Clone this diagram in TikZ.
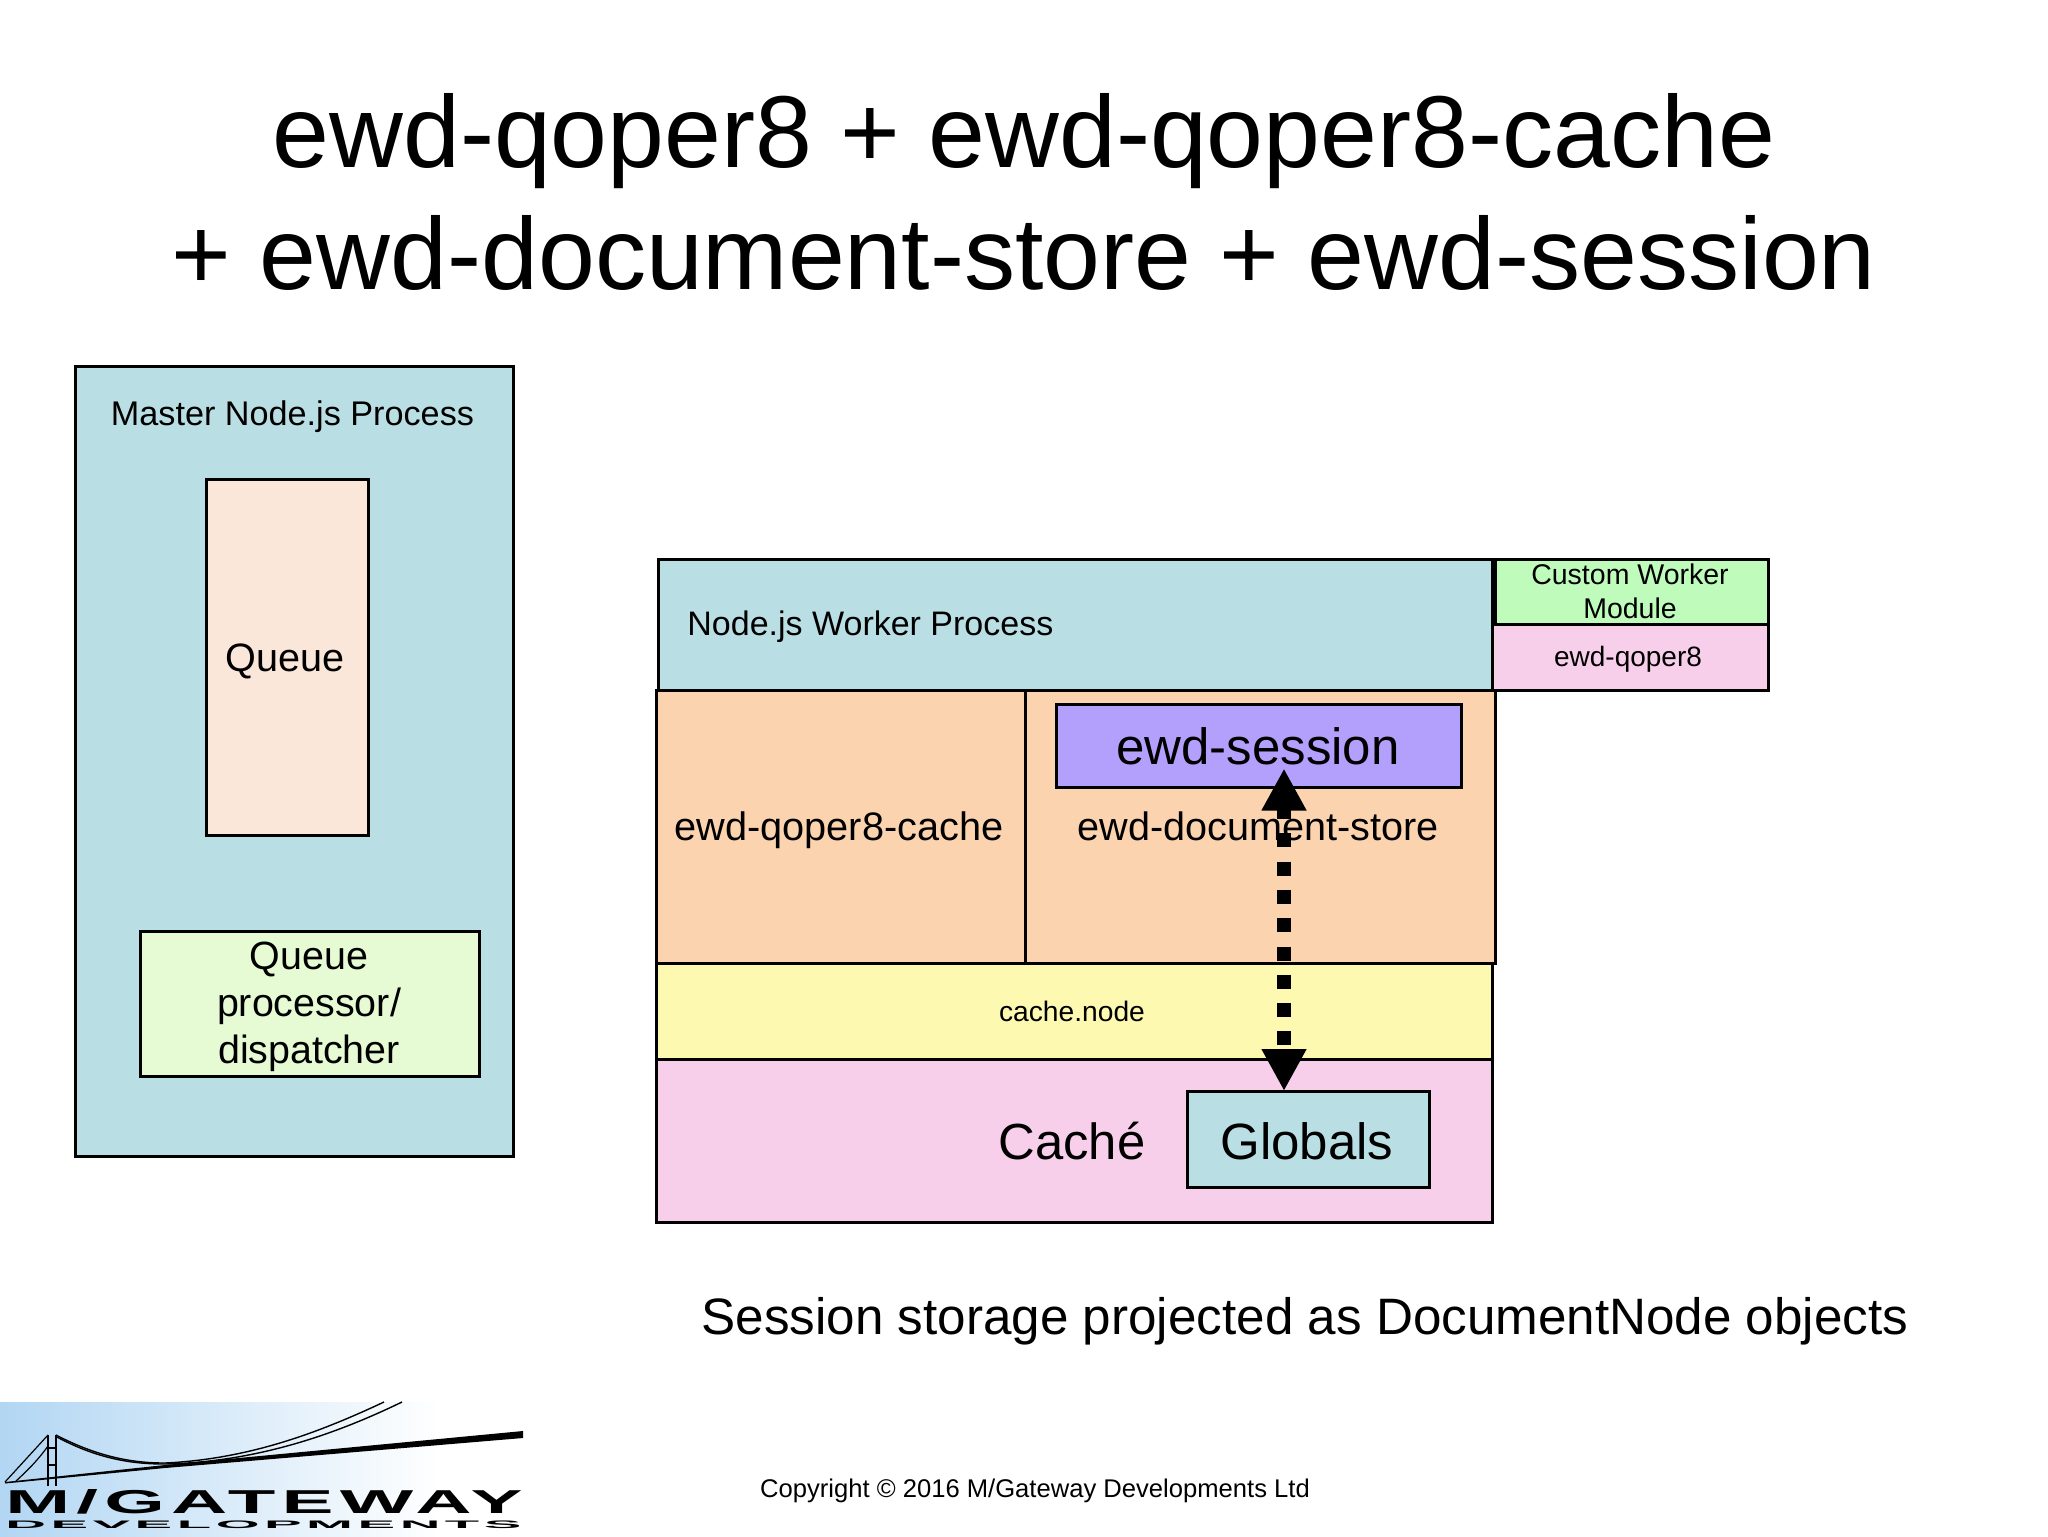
\documentclass[tikz,border=0pt]{standalone}
\usepackage{fontspec}
\setmainfont{Liberation Sans}
\usetikzlibrary{arrows.meta}
\definecolor{tealbg}{HTML}{B9DFE4}
\definecolor{queuebg}{HTML}{FBE7DA}
\definecolor{dispbg}{HTML}{E6FBD3}
\definecolor{orangebg}{HTML}{FCD3AF}
\definecolor{sessbg}{HTML}{B3A0FC}
\definecolor{yellowbg}{HTML}{FDF9B0}
\definecolor{pinkbg}{HTML}{F7CFEB}
\definecolor{custombg}{HTML}{BFFCBC}
\definecolor{logoblue}{HTML}{B2D6F3}
\tikzset{
  x=0.5pt,y=-0.5pt,
  box/.style={draw=black,line width=1.5pt,inner sep=0pt,outer sep=0pt,anchor=north west},
  lbl/.style={inner sep=0pt,anchor=base,text=black},
  multi/.style={inner sep=0pt,anchor=center,align=center,text=black},
}
\newcommand{\fs}[1]{\fontsize{#1pt}{#1pt}\selectfont}
\begin{document}
\begin{tikzpicture}
\useasboundingbox (0,0) rectangle (2048,1536);
\fill[white] (0,0) rectangle (2048,1536);
% title
\node[lbl] (t1) at (1024,167) {\fs{51.1}ewd-qoper8 + ewd-qoper8-cache};
\node[lbl] (t2) at (1024,289) {\fs{51.1}+ ewd-document-store + ewd-session};
% master
\node[box,fill=tealbg,minimum width=219pt,minimum height=395pt] (master) at (75,366) {};
\node[lbl] (masterl) at (292.5,425) {\fs{17.1}Master Node.js Process};
\node[box,fill=queuebg,minimum width=81pt,minimum height=178pt] (queue) at (206,479) {};
\node[lbl] (queuel) at (285,671) {\fs{19.8}Queue};
\node[box,fill=dispbg,minimum width=169.5pt,minimum height=72.5pt] (disp) at (140,931) {};
\node[multi,font=\fs{19.7},execute at begin node={\baselineskip=23.5pt}] (displ) at (309,1007) {Queue\\processor/\\dispatcher};
% worker
\node[box,fill=tealbg,minimum width=417pt,minimum height=65.5pt] (worker) at (658,559) {};
\node[lbl,anchor=base west] (workerl) at (687,635) {\fs{17}Node.js Worker Process};
\node[box,fill=custombg,minimum width=136.5pt,minimum height=32.5pt] (custom) at (1495,559) {};
\node[multi,font=\fs{14.25},execute at begin node={\baselineskip=17pt}] (customl) at (1630,591) {Custom Worker\\Module};
\node[box,fill=pinkbg,minimum width=138pt,minimum height=33pt] (qoper) at (1492,624) {};
\node[lbl] (qoperl) at (1628,666) {\fs{14}ewd-qoper8};
% modules
\node[box,fill=orangebg,minimum width=184.5pt,minimum height=136.5pt] (cachem) at (656,690) {};
\node[lbl] (cachel) at (839,840) {\fs{19.85}ewd-qoper8-cache};
\node[box,fill=orangebg,minimum width=235pt,minimum height=136.5pt] (store) at (1025,690) {};
\node[box,fill=sessbg,minimum width=202.5pt,minimum height=41.5pt] (session) at (1056,704) {};
\node[lbl] (sessionl) at (1258,764.5) {\fs{25.5}ewd-session};
\node[box,fill=yellowbg,minimum width=418pt,minimum height=48pt] (cnode) at (656,963) {};
\node[lbl] (cnodel) at (1072,1021) {\fs{14.1}cache.node};
\node[box,fill=pinkbg,minimum width=418pt,minimum height=81.5pt] (cachedb) at (656,1059) {};
\node[lbl] (cachedbl) at (1072,1159) {\fs{25.4}Caché};
\node[box,fill=tealbg,minimum width=121pt,minimum height=48pt] (globals) at (1187,1091) {};
\node[lbl] (globalsl) at (1307,1159) {\fs{25.5}Globals};
% connector
\coordinate (arrtop) at (1284,768.5);
\coordinate (arrbot) at (1284,1091);
\draw[line width=7pt,dash pattern=on 7pt off 7.15pt,dash phase=1.4pt,
  {Triangle[width=21pt,length=21pt]}-{Triangle[width=21pt,length=21pt]}] (arrtop) -- (arrbot);
\node[lbl] (storel) at (1258,840) {\fs{19.8}ewd-document-store};
% caption
\node[lbl] (caption) at (1305,1334) {\fs{25.6}Session storage projected as DocumentNode objects};
\node[lbl] (copy) at (1035,1497) {\fs{12.8}Copyright © 2016 M/Gateway Developments Ltd};
% logo
\shade[left color=logoblue,right color=white] (0,1402) rectangle (440,1536);
\draw[black,line width=0.7pt] (56,1435) .. controls (100,1458) and (135,1463) .. (165,1463) .. controls (250,1459) and (320,1432) .. (384,1402);
\draw[black,line width=0.7pt] (57,1437) .. controls (100,1460) and (135,1464) .. (165,1464) .. controls (260,1462) and (340,1432) .. (402,1402);
\draw[black,line width=0.6pt] (48,1435) -- (5,1482);
\draw[black,line width=0.6pt] (48,1446) .. controls (38,1460) and (28,1470) .. (16,1481);
\draw[black,line width=1.2pt] (48,1435) -- (48,1486) (56,1435) -- (56,1486) (48,1448) -- (56,1448) (48,1465) -- (56,1465);
\fill[black] (5,1482) -- (165,1465) -- (523,1431) -- (523,1438) -- (165,1468) -- (5,1483.5) -- cycle;
\node[inner sep=0pt,anchor=north west] (mgw) at (5,1489) {\resizebox{258.5pt}{12pt}{\addfontfeature{LetterSpace=8}\bfseries M/GATEWAY}};
\node[inner sep=0pt,anchor=north west] (dev) at (5,1520) {\resizebox{258pt}{3.8pt}{\addfontfeature{LetterSpace=8}\bfseries DEVELOPMENTS}};
\end{tikzpicture}
\end{document}
